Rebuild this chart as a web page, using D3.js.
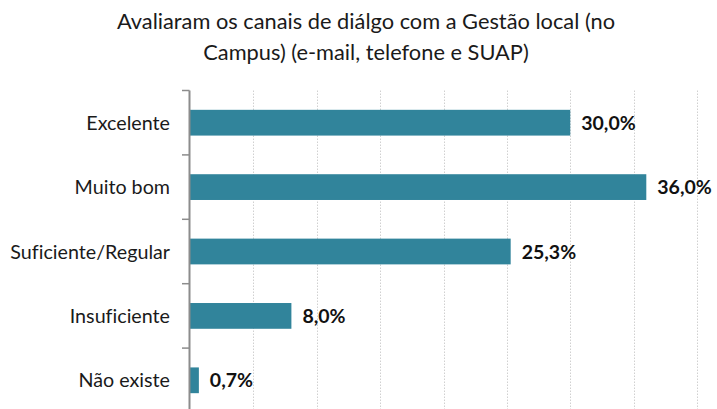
<!DOCTYPE html>
<html>
<head>
<meta charset="utf-8">
<script src="https://cdn.jsdelivr.net/npm/d3@7"></script>
<style>
  html, body { margin: 0; padding: 0; background: #fff; }
  svg { display: block; font-family: Lato, "Open Sans", sans-serif; font-variant-ligatures: none; }
</style>
</head>
<body>
<svg id="chart" width="717" height="409"></svg>
<script>
// Survey answers: rating of the dialogue channels with local management
const categories = ["Excelente", "Muito bom", "Suficiente/Regular", "Insuficiente", "Não existe"];
const values = [30.0, 36.0, 25.3, 8.0, 0.7];
const xTicks = [5, 10, 15, 20, 25, 30, 35, 40];
const titleLines = [
  "Avaliaram os canais de diálgo com a Gestão local (no",
  "Campus) (e-mail, telefone e SUAP)"
];

const svg = d3.select("#chart");
const plot = { left: 190, right: 697, top: 90.5, bottom: 412.5 };

const x = d3.scaleLinear().domain([0, 40]).range([plot.left, plot.right]);
const y = d3.scaleBand().domain(categories).range([plot.top, plot.bottom]).paddingInner(0.6).paddingOuter(0.3);

// title
svg.append("g").selectAll("text")
  .data(titleLines)
  .join("text")
  .attr("x", 366)
  .attr("y", (d, i) => 29 + i * 31)
  .attr("text-anchor", "middle")
  .attr("font-size", 21.8)
  .attr("fill", "#1a1a1a")
  .text(d => d);

// dotted vertical gridlines
svg.append("g").selectAll("line")
  .data(xTicks)
  .join("line")
  .attr("x1", d => Math.round(x(d)) + 0.5)
  .attr("x2", d => Math.round(x(d)) + 0.5)
  .attr("y1", plot.top)
  .attr("y2", plot.bottom)
  .attr("stroke", "#d0d0d0")
  .attr("stroke-width", 1)
  .attr("stroke-dasharray", "1.5,1.5");

// bars
svg.append("g").selectAll("rect")
  .data(values)
  .join("rect")
  .attr("x", x(0))
  .attr("y", (d, i) => y(categories[i]))
  .attr("width", d => x(d) - x(0))
  .attr("height", y.bandwidth())
  .attr("fill", "#31849b");

// value labels
svg.append("g").selectAll("text")
  .data(values)
  .join("text")
  .attr("x", d => x(d) + 11)
  .attr("y", (d, i) => y(categories[i]) + y.bandwidth() / 2)
  .attr("dy", "0.36em")
  .attr("font-size", 19.5)
  .attr("font-weight", "bold")
  .attr("fill", "#111")
  .text(d => d.toFixed(1).replace(".", ",") + "%");

// category axis with ticks on band boundaries
const axisG = svg.append("g");
axisG.append("line")
  .attr("x1", plot.left - 0.5).attr("x2", plot.left - 0.5)
  .attr("y1", plot.top).attr("y2", plot.bottom)
  .attr("stroke", "#8c8c8c").attr("stroke-width", 2);
const edges = d3.range(categories.length + 1).map(i => plot.top + i * (plot.bottom - plot.top) / categories.length);
axisG.selectAll("line.tick")
  .data(edges)
  .join("line")
  .attr("class", "tick")
  .attr("x1", plot.left - 8).attr("x2", plot.left - 0.5)
  .attr("y1", d => d).attr("y2", d => d)
  .attr("stroke", "#8c8c8c").attr("stroke-width", 1.5);
axisG.selectAll("text")
  .data(categories)
  .join("text")
  .attr("x", 170)
  .attr("y", d => y(d) + y.bandwidth() / 2)
  .attr("dy", "0.36em")
  .attr("text-anchor", "end")
  .attr("font-size", 19.7)
  .attr("fill", "#1a1a1a")
  .text(d => d);
</script>
</body>
</html>
